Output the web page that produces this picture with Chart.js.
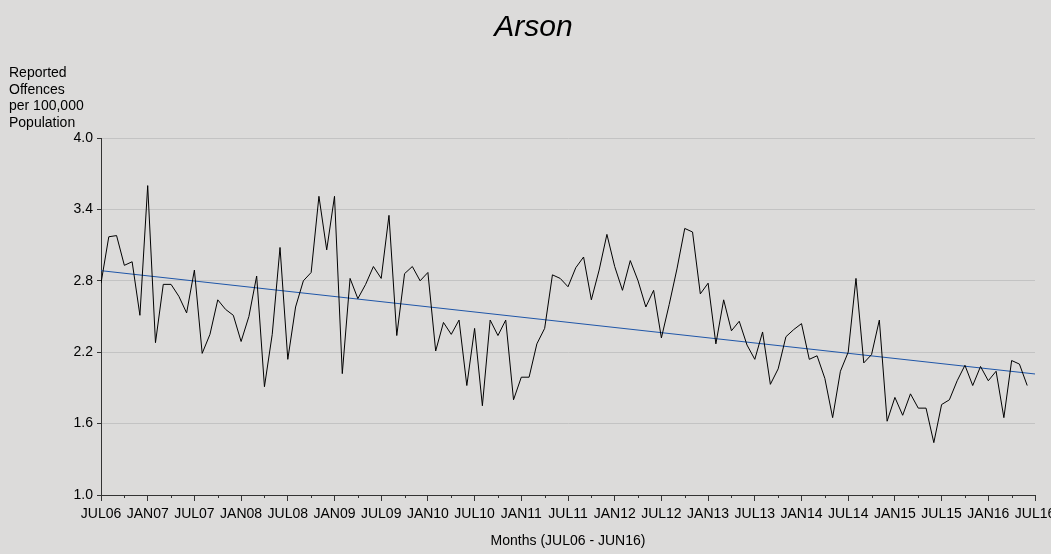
<!DOCTYPE html>
<html>
<head>
<meta charset="utf-8">
<script src="https://cdn.jsdelivr.net/npm/chart.js@4"></script>
<style>
  html, body { margin: 0; padding: 0; background: #dcdbda; }
  #wrap { width: 1051px; height: 554px; }
</style>
</head>
<body>
<div id="wrap"><canvas id="arsonChart" width="1051" height="554"></canvas></div>
<script>
// Monthly rate, JUL06 .. JUN16 (120 months)
var arsonRates = [
  2.78, 3.17, 3.18, 2.93, 2.96, 2.51, 3.60, 2.28, 2.77, 2.77, 2.67, 2.53,
  2.89, 2.19, 2.35, 2.64, 2.56, 2.51, 2.29, 2.50, 2.84, 1.91, 2.35, 3.08,
  2.14, 2.58, 2.80, 2.87, 3.51, 3.06, 3.51, 2.02, 2.82, 2.65, 2.77, 2.92,
  2.82, 3.35, 2.34, 2.86, 2.92, 2.80, 2.87, 2.21, 2.45, 2.35, 2.47, 1.92,
  2.40, 1.75, 2.47, 2.34, 2.47, 1.80, 1.99, 1.99, 2.27, 2.40, 2.85, 2.82,
  2.75, 2.91, 3.00, 2.64, 2.89, 3.19, 2.92, 2.72, 2.97, 2.80, 2.58, 2.72,
  2.32, 2.60, 2.90, 3.24, 3.21, 2.69, 2.78, 2.27, 2.64, 2.38, 2.46, 2.26,
  2.14, 2.37, 1.93, 2.06, 2.33, 2.39, 2.44, 2.14, 2.17, 1.98, 1.65, 2.04,
  2.20, 2.82, 2.11, 2.18, 2.47, 1.62, 1.82, 1.67, 1.85, 1.73, 1.73, 1.44,
  1.76, 1.80, 1.96, 2.09, 1.92, 2.08, 1.96, 2.04, 1.65, 2.13, 2.10, 1.92
];

// linear trend, value at JUL06 and at JUL16
var trendValues = [2.885, 2.017];

var tickLabels = ['JUL06', 'JAN07', 'JUL07', 'JAN08', 'JUL08', 'JAN09', 'JUL09',
  'JAN10', 'JUL10', 'JAN11', 'JUL11', 'JAN12', 'JUL12', 'JAN13', 'JUL13',
  'JAN14', 'JUL14', 'JAN15', 'JUL15', 'JAN16', 'JUL16'];

var yTicks = [1.0, 1.6, 2.2, 2.8, 3.4, 4.0];

var chartTitle = 'Arson';
var yTitleLines = ['Reported', 'Offences', 'per 100,000', 'Population'];
var xTitle = 'Months (JUL06 - JUN16)';

var lastMonth = (tickLabels.length - 1) * 6;

var fontFamily = '"Liberation Sans", Arial, sans-serif';
var axisColor = '#333333';

// background + texts that sit outside the axes
var decorPlugin = {
  id: 'decor',
  beforeDraw: function (chart) {
    var ctx = chart.ctx;
    ctx.save();
    ctx.fillStyle = '#dcdbda';
    ctx.fillRect(0, 0, chart.width, chart.height);
    ctx.restore();
  },
  afterDraw: function (chart) {
    var ctx = chart.ctx;
    var area = chart.chartArea;
    ctx.save();
    ctx.fillStyle = '#000';
    ctx.textBaseline = 'alphabetic';

    ctx.font = 'italic 30px ' + fontFamily;
    ctx.textAlign = 'center';
    ctx.fillText(chartTitle, chart.width / 2 + 8, 36);

    ctx.font = '14px ' + fontFamily;
    ctx.textAlign = 'left';
    yTitleLines.forEach(function (line, i) {
      ctx.fillText(line, 9, 77 + i * 16.7);
    });

    ctx.textAlign = 'center';
    ctx.textBaseline = 'middle';
    ctx.fillText(xTitle, (area.left + area.right) / 2, 541);

    // short minor ticks between the labelled months
    var xs = chart.scales.x;
    ctx.strokeStyle = axisColor;
    ctx.lineWidth = 1;
    ctx.beginPath();
    for (var m = 3; m < lastMonth; m += 6) {
      var px = Math.round(xs.getPixelForValue(m)) + 0.5;
      ctx.moveTo(px, area.bottom);
      ctx.lineTo(px, area.bottom + 3);
    }
    ctx.stroke();
    ctx.restore();
  }
};

var myContext = document.getElementById('arsonChart').getContext('2d');
var myChart = new Chart(myContext, {
  type: 'line',
  data: {
    datasets: [{
      label: 'Arson',
      data: arsonRates.map(function (v, i) { return { x: i, y: v }; }),
      borderColor: '#000000',
      borderWidth: 1,
      pointRadius: 0,
      tension: 0
    }, {
      label: 'Trend',
      data: trendValues.map(function (v, i) { return { x: i * lastMonth, y: v }; }),
      borderColor: '#1f56a8',
      borderWidth: 1,
      pointRadius: 0,
      tension: 0
    }]
  },
  options: {
    responsive: false,
    animation: false,
    events: [],
    layout: { padding: { top: 138, right: 16, left: 0, bottom: 0 } },
    plugins: {
      legend: { display: false },
      tooltip: { enabled: false },
      title: { display: false }
    },
    scales: {
      x: {
        type: 'linear',
        min: 0,
        max: lastMonth,
        afterFit: function (scale) {
          scale.height = 59;
          scale.paddingRight = 0;
          scale.paddingLeft = 0;
        },
        afterBuildTicks: function (scale) {
          scale.ticks = tickLabels.map(function (t, i) { return { value: i * 6 }; });
        },
        ticks: {
          autoSkip: false,
          maxRotation: 0,
          padding: 5,
          color: '#000',
          font: { family: fontFamily, size: 14 },
          callback: function (value) { return tickLabels[Math.round(value / 6)]; }
        },
        grid: {
          drawOnChartArea: false,
          drawTicks: true,
          tickLength: 6,
          tickColor: axisColor
        },
        border: { display: true, color: axisColor, width: 1 }
      },
      y: {
        min: 1.0,
        max: 4.0,
        afterFit: function (scale) { scale.width = 101; },
        afterBuildTicks: function (scale) {
          scale.ticks = yTicks.map(function (v) { return { value: v }; });
        },
        ticks: {
          padding: 4,
          color: '#000',
          font: { family: fontFamily, size: 14 },
          callback: function (value) { return value.toFixed(1); }
        },
        grid: {
          color: '#c3c3c3',
          lineWidth: 1,
          drawTicks: true,
          tickLength: 4,
          tickColor: axisColor
        },
        border: { display: true, color: axisColor, width: 1 }
      }
    }
  },
  plugins: [decorPlugin]
});
</script>
</body>
</html>
